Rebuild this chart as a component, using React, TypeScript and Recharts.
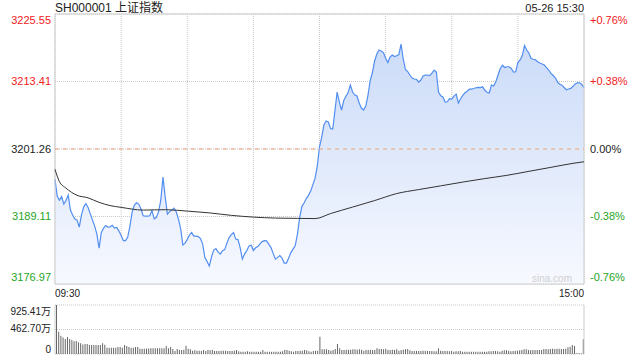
import {
  ComposedChart, Area, Line, XAxis, YAxis, CartesianGrid,
  ReferenceLine, ReferenceArea, BarChart, Bar
} from 'recharts';

const PREV_CLOSE = 3201.26;
const PRICE_TICKS = [3176.97, 3189.11, 3201.26, 3213.41, 3225.55];
const TIME_TICKS = [0, 30, 60, 90, 120, 150, 180, 210, 240];
const TIME_LABELS = ['09:30', '15:00'];
const VOL_TICKS = [0, 462.70, 925.41];

// one price per minute, 09:30 -> 15:00
const PRICE = [
  3195.80, 3192.79, 3192.02, 3192.70, 3191.35, 3191.98, 3192.97, 3190.27, 3189.37, 3188.65,
  3188.47, 3187.21, 3189.37, 3190.81, 3191.44, 3190.72, 3189.64, 3188.47, 3187.39, 3185.95,
  3183.43, 3186.22, 3186.98, 3187.48, 3187.21, 3187.26, 3187.52, 3187.03, 3187.16, 3186.49,
  3185.68, 3184.78, 3184.78, 3185.41, 3187.39, 3189.91, 3191.17, 3191.58, 3191.35, 3190.45,
  3189.24, 3189.19, 3189.19, 3189.24, 3190.18, 3188.70, 3188.92, 3190.00, 3192.07, 3196.21,
  3192.61, 3189.55, 3190.00, 3190.27, 3190.63, 3189.96, 3188.65, 3186.94, 3183.97, 3184.33,
  3184.96, 3185.77, 3186.22, 3185.59, 3185.59, 3185.50, 3185.14, 3184.15, 3181.72, 3181.00,
  3180.19, 3181.81, 3183.07, 3183.34, 3182.71, 3182.35, 3182.98, 3183.16, 3184.33, 3185.32,
  3185.86, 3186.22, 3185.05, 3184.96, 3183.52, 3181.45, 3182.35, 3182.98, 3183.79, 3183.97,
  3182.98, 3183.48, 3183.70, 3184.20, 3184.60, 3184.78, 3184.74, 3184.10, 3183.52, 3182.44,
  3181.45, 3181.76, 3182.08, 3181.63, 3180.73, 3180.73, 3181.63, 3182.62, 3183.25, 3183.88,
  3185.95, 3188.92, 3190.90, 3191.53, 3192.34, 3192.92, 3193.69, 3194.86, 3196.03, 3198.19,
  3201.66, 3203.41, 3205.57, 3206.29, 3206.11, 3204.94, 3204.85, 3208.09, 3211.51, 3209.71,
  3208.27, 3209.98, 3210.74, 3211.42, 3212.77, 3211.51, 3210.97, 3210.79, 3209.53, 3208.63,
  3208.27, 3208.99, 3210.97, 3213.58, 3215.02, 3217.09, 3218.35, 3219.07, 3218.89, 3218.62,
  3217.58, 3216.82, 3217.81, 3218.17, 3217.90, 3218.04, 3218.26, 3220.15, 3217.45, 3215.56,
  3215.20, 3214.57, 3214.03, 3213.85, 3213.80, 3213.31, 3213.67, 3214.39, 3214.57, 3214.57,
  3214.48, 3214.93, 3215.47, 3215.11, 3211.51, 3210.84, 3210.61, 3209.71, 3209.76, 3210.30,
  3210.25, 3210.79, 3211.15, 3209.53, 3210.30, 3210.92, 3211.37, 3211.65, 3212.05, 3212.05,
  3212.14, 3212.28, 3212.36, 3212.32, 3212.45, 3211.82, 3211.47, 3211.33, 3212.77, 3212.59,
  3213.36, 3214.57, 3215.74, 3216.33, 3215.92, 3216.06, 3216.06, 3215.74, 3215.11, 3215.16,
  3216.82, 3217.27, 3218.08, 3219.88, 3219.07, 3218.53, 3217.54, 3217.40, 3217.31, 3216.95,
  3216.73, 3216.55, 3216.37, 3215.92, 3215.47, 3214.88, 3214.48, 3214.08, 3213.31, 3212.90,
  3212.74, 3212.32, 3211.92, 3212.05, 3212.16, 3212.54, 3212.95, 3213.17, 3213.17, 3212.86,
  3212.32,
];

// average price line, read at a few minutes
const AVG_MINUTE = [0, 2, 5, 10, 15, 20, 25, 30, 40, 50, 60, 70, 80, 90, 100, 110, 118, 125, 135, 145, 155, 165, 175, 185, 195, 205, 215, 225, 235, 240];
const AVG_PRICE = [
  3197.60, 3195.40, 3194.21, 3192.93, 3192.47, 3191.66, 3191.08, 3190.76, 3190.27, 3190.34,
  3190.09, 3189.77, 3189.32, 3189.01, 3188.83, 3188.78, 3188.74, 3189.64, 3190.81, 3191.98,
  3193.24, 3193.96, 3194.63, 3195.31, 3195.94, 3196.52, 3197.24, 3197.96, 3198.68, 3198.96,
];

// volume per minute, in 万
const VOLUME = [
  925, 420, 345, 310, 285, 320, 285, 265, 240, 245,
  220, 205, 180, 190, 190, 170, 170, 170, 170, 170,
  170, 205, 175, 120, 120, 120, 115, 120, 130, 130,
  120, 170, 150, 130, 120, 120, 130, 130, 100, 100,
  100, 105, 105, 110, 110, 110, 110, 110, 110, 110,
  150, 110, 130, 95, 57, 95, 75, 75, 82, 157,
  100, 88, 63, 70, 63, 63, 57, 75, 57, 75,
  70, 75, 57, 57, 57, 63, 63, 63, 57, 57,
  57, 63, 76, 50, 44, 44, 44, 50, 44, 44,
  44, 44, 44, 44, 76, 44, 44, 44, 44, 44,
  44, 44, 44, 50, 76, 76, 63, 50, 44, 57,
  57, 63, 63, 76, 70, 50, 44, 57, 63, 63,
  327, 88, 88, 88, 76, 63, 76, 95, 189, 107,
  76, 76, 82, 82, 82, 88, 88, 82, 88, 82,
  63, 76, 76, 82, 76, 76, 107, 95, 95, 88,
  100, 76, 76, 82, 76, 88, 63, 76, 82, 88,
  95, 70, 57, 57, 57, 57, 57, 63, 63, 57,
  57, 57, 50, 50, 107, 63, 57, 57, 57, 50,
  57, 44, 50, 50, 57, 44, 44, 44, 44, 44,
  44, 44, 44, 44, 44, 44, 44, 50, 50, 57,
  57, 50, 44, 63, 70, 70, 63, 50, 57, 63,
  63, 70, 76, 88, 88, 76, 70, 76, 76, 76,
  76, 76, 95, 95, 88, 95, 100, 95, 100, 100,
  95, 95, 100, 126, 139, 170, 150, 13, 13, 13,
  277,
];

const RED = '#f0201c';
const GREEN = '#1fa51f';
const FONT = '"Liberation Sans", Arial, "Noto Sans CJK SC", sans-serif';

const priceRows = PRICE.map((p, i) => {
  const k = AVG_MINUTE.indexOf(i);
  return { m: i, price: p, avg: k >= 0 ? AVG_PRICE[k] : null };
});
const volRows = VOLUME.map((v, i) => ({ m: i, vol: v }));

const Y_MIN = PRICE_TICKS[0];
const Y_MAX = PRICE_TICKS[PRICE_TICKS.length - 1];

function pct(v: number) {
  const r = ((v - PREV_CLOSE) / PREV_CLOSE) * 100;
  if (Math.abs(r) < 0.005) return '0.00%';
  return (r > 0 ? '+' : '') + r.toFixed(2) + '%';
}

function PriceTick(props: any) {
  const { x, y, payload, side } = props;
  const v = payload.value;
  const color = v > PREV_CLOSE + 0.01 ? RED : v < PREV_CLOSE - 0.01 ? GREEN : '#222';
  const idx = PRICE_TICKS.indexOf(v);
  const shift = idx === PRICE_TICKS.length - 1 ? 6 : idx === 0 ? -7 : 0;
  return (
    <text x={x} y={y + shift} dy="0.35em" textAnchor={side === 'left' ? 'end' : 'start'}
      fill={color} fontSize={11} fontFamily={FONT}>
      {side === 'left' ? v.toFixed(2) : pct(v)}
    </text>
  );
}

function TimeTick(props: any) {
  const { x, y, payload } = props;
  if (payload.value !== 0 && payload.value !== 240) return <g />;
  const first = payload.value === 0;
  return (
    <text x={x} y={y + 9} dy="0.35em" textAnchor={first ? 'start' : 'end'}
      fill="#222" fontSize={10} fontFamily={FONT}>
      {first ? TIME_LABELS[0] : TIME_LABELS[1]}
    </text>
  );
}

function VolTick(props: any) {
  const { x, y, payload } = props;
  const v = payload.value;
  const idx = VOL_TICKS.indexOf(v);
  const shift = idx === VOL_TICKS.length - 1 ? 6 : idx === 0 ? -5 : -1;
  return (
    <text x={x} y={y + shift} dy="0.35em" textAnchor="end" fill="#222" fontSize={10} fontFamily={FONT}>
      {v === 0 ? '0' : v.toFixed(2) + '万'}
    </text>
  );
}

export default function App() {
  return (
    <div style={{ position: 'absolute', left: 0, top: 0, width: 640, height: 360, background: '#fff', fontFamily: FONT }}>
      <div style={{ position: 'absolute', left: 55, top: 0, fontSize: 12, lineHeight: '16px', color: '#222' }}>
        SH000001 上证指数
      </div>
      <div style={{ position: 'absolute', right: 56, top: 0, fontSize: 11, lineHeight: '16px', color: '#222' }}>
        05-26 15:30
      </div>

      <div style={{ position: 'absolute', left: 0, top: 0 }}>
        <ComposedChart width={640} height={300} data={priceRows} margin={{ top: 14, right: 0, bottom: 0, left: 0 }}>
          <defs>
            <linearGradient id="priceFill" x1="0" y1="0" x2="0" y2="1">
              <stop offset="0%" stopColor="#cbdbf8" />
              <stop offset="100%" stopColor="#f7f9ff" />
            </linearGradient>
          </defs>
          <CartesianGrid yAxisId="p" stroke="#c8c8c8" strokeDasharray="1 1" />
          <XAxis dataKey="m" type="number" domain={[0, 240]} ticks={TIME_TICKS} interval={0}
            height={16} axisLine={false} tickLine={false} tickSize={0} tickMargin={0} tick={TimeTick} />
          <YAxis yAxisId="p" domain={[Y_MIN, Y_MAX]} ticks={PRICE_TICKS} interval={0} width={55}
            axisLine={false} tickLine={false} tickSize={0} tickMargin={4}
            tick={(p: any) => <PriceTick {...p} side="left" />} />
          <YAxis yAxisId="pct" orientation="right" domain={[Y_MIN, Y_MAX]} ticks={PRICE_TICKS} interval={0} width={56}
            axisLine={false} tickLine={false} tickSize={0} tickMargin={6}
            tick={(p: any) => <PriceTick {...p} side="right" />} />
          <Area yAxisId="p" dataKey="price" type="linear" stroke="#528ef0" strokeWidth={1.2}
            fill="url(#priceFill)" fillOpacity={1} dot={false} activeDot={false} isAnimationActive={false} />
          <Line yAxisId="pct" dataKey="price" stroke="none" dot={false} activeDot={false}
            legendType="none" isAnimationActive={false} />
          <ReferenceLine yAxisId="p" y={PREV_CLOSE} stroke="#f2a06e" strokeDasharray="4 4" />
          <Line yAxisId="p" dataKey="avg" type="monotone" stroke="#333" strokeWidth={1} dot={false}
            activeDot={false} connectNulls isAnimationActive={false} />
          <ReferenceArea yAxisId="p" y1={Y_MIN} y2={Y_MAX} fill="none" stroke="#cccccc" />
        </ComposedChart>
      </div>

      <div style={{ position: 'absolute', left: 532, top: 272, fontSize: 10, lineHeight: '14px', color: '#cfcfcf' }}>
        sina.com
      </div>

      <div style={{ position: 'absolute', left: 0, top: 300 }}>
        <BarChart width={640} height={60} data={volRows} margin={{ top: 5, right: 0, bottom: 6, left: 0 }} barCategoryGap={0}>
          <CartesianGrid yAxisId="v" vertical={false} stroke="#c8c8c8" strokeDasharray="1 1" />
          <XAxis dataKey="m" hide />
          <YAxis yAxisId="v" domain={[0, 925.41]} ticks={VOL_TICKS} interval={0} width={55}
            axisLine={{ stroke: '#cccccc' }} tickLine={false} tickSize={0} tickMargin={4} tick={VolTick} />
          <YAxis yAxisId="v2" orientation="right" domain={[0, 925.41]} width={56}
            axisLine={{ stroke: '#cccccc' }} tickLine={false} tick={false} />
          <Bar yAxisId="v" dataKey="vol" fill="#666" barSize={1} isAnimationActive={false} />
        </BarChart>
      </div>
    </div>
  );
}
